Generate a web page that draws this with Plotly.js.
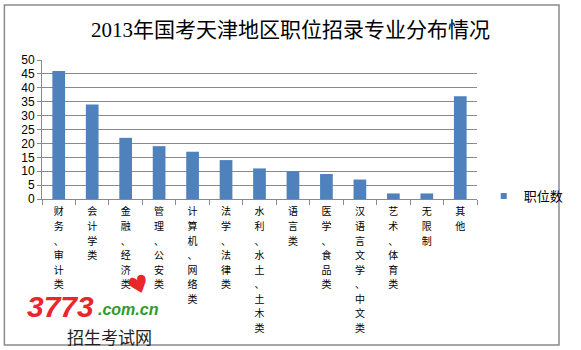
<!DOCTYPE html>
<html>
<head>
<meta charset="utf-8">
<script src="https://cdn.plot.ly/plotly-3.0.1.min.js"></script>
<style>
  html, body { margin: 0; padding: 0; background: #ffffff; }
  #chart { width: 581px; height: 350px; }
</style>
</head>
<body>
<div id="chart"></div>
<script>
// ---- data ----
const categories = ["财务、审计类", "会计学类", "金融、经济类", "管理、公安类", "计算机、网络类", "法学、法律类",
                    "水利、水土、土木类", "语言类", "医学、食品类", "汉语言文学、中文类", "艺术、体育类", "无限制", "其他"];
const positions = [46, 34, 22, 19, 17, 14, 11, 10, 9, 7, 2, 2, 37];
const seriesName = "职位数";
const yTicks = [0, 5, 10, 15, 20, 25, 30, 35, 40, 45, 50];
const chartTitle = "2013年国考天津地区职位招录专业分布情况";

// ---- layout constants (pixels) ----
const W = 581, H = 350;
const ML = 42, MR = 88, MT = 60, MB = 151;
const PW = W - ML - MR, PH = H - MT - MB;
const px = x => (x - ML) / PW;
const py = y => (H - MB - y) / PH;

const barColor = "#4F81BD";
const gridColor = "#898989";

// stack each character of a category label vertically
const verticalText = categories.map(s =>
  s.split("").map(c => '<span style="font-size:10px">' + c + '</span>').join("<br>"));

const traces = [
  {
    type: "bar",
    x: categories,
    y: positions,
    name: seriesName,
    marker: { color: barColor },
    showlegend: false
  },
  {
    type: "scatter",
    mode: "markers",
    x: [null],
    y: [null],
    name: seriesName,
    marker: { color: barColor, symbol: "square", size: 6 },
    showlegend: true,
    hoverinfo: "skip"
  }
];

const layout = {
  width: W,
  height: H,
  margin: { l: ML, r: MR, t: MT, b: MB, pad: 0 },
  paper_bgcolor: "#ffffff",
  plot_bgcolor: "#ffffff",
  bargap: 0.62,
  title: {
    text: chartTitle,
    font: { family: "Liberation Serif, Noto Sans CJK SC, serif", size: 21, color: "#000000" },
    x: 0.5, xref: "container", xanchor: "center",
    y: 1 - 30 / H, yref: "container", yanchor: "middle"
  },
  xaxis: {
    type: "category",
    tickmode: "array",
    tickvals: categories,
    ticktext: verticalText,
    tickson: "boundaries",
    ticks: "outside",
    ticklen: 5,
    tickcolor: gridColor,
    ticklabelstandoff: 2,
    showline: true,
    linecolor: gridColor,
    linewidth: 1,
    showgrid: false,
    tickfont: { family: "Noto Sans CJK SC, sans-serif", size: 11.2, color: "#000000" },
    fixedrange: true
  },
  yaxis: {
    range: [0, 50],
    tickmode: "array",
    tickvals: yTicks,
    ticktext: yTicks.map(String),
    ticks: "outside",
    ticklen: 4,
    tickcolor: gridColor,
    showline: true,
    linecolor: gridColor,
    linewidth: 1,
    showgrid: true,
    gridcolor: gridColor,
    gridwidth: 1,
    zeroline: false,
    tickfont: { family: "Liberation Sans, Arial, sans-serif", size: 12, color: "#000000" },
    fixedrange: true
  },
  showlegend: true,
  legend: {
    x: px(500), xanchor: "left",
    y: py(196), yanchor: "middle",
    bgcolor: "rgba(0,0,0,0)",
    borderwidth: 0,
    itemwidth: 30,
    font: { family: "Noto Sans CJK SC, sans-serif", size: 13, color: "#000000" }
  },
  shapes: [
    {
      type: "rect", xref: "paper", yref: "paper",
      x0: px(3), x1: px(578), y0: py(345), y1: py(5),
      line: { color: "#8a8a8a", width: 1.5 },
      fillcolor: "rgba(0,0,0,0)",
      layer: "below"
    }
  ],
  annotations: [
    {
      text: "<b><i>3773</i></b>", xref: "paper", yref: "paper",
      x: px(61), y: py(306), xanchor: "center", yanchor: "middle",
      showarrow: false,
      font: { family: "Liberation Sans, Arial, sans-serif", size: 30, color: "#E8262B" }
    },
    {
      text: "<b><i>.com.cn</i></b>", xref: "paper", yref: "paper",
      x: px(132), y: py(309), xanchor: "center", yanchor: "middle",
      showarrow: false,
      font: { family: "Liberation Sans, Arial, sans-serif", size: 16, color: "#2E9A2E" }
    },
    {
      text: "♥", xref: "paper", yref: "paper",
      x: px(143), y: py(285), xanchor: "center", yanchor: "middle",
      showarrow: false, textangle: -20,
      font: { family: "DejaVu Sans, sans-serif", size: 24, color: "#E8262B" }
    },
    {
      text: "招生考试网", xref: "paper", yref: "paper",
      x: px(112), y: py(336), xanchor: "center", yanchor: "middle",
      showarrow: false,
      font: { family: "Noto Sans CJK SC, sans-serif", size: 17, color: "#222222" }
    }
  ]
};

Plotly.newPlot("chart", traces, layout, { displayModeBar: false, staticPlot: true });
</script>
</body>
</html>
